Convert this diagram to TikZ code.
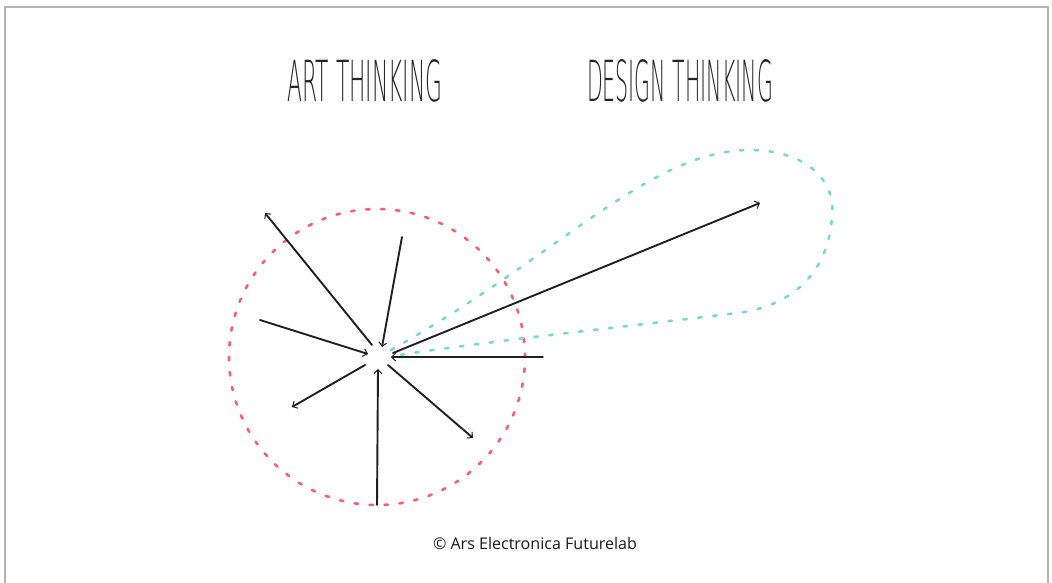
\documentclass[tikz,border=0pt]{standalone}
\usepackage{fontspec}
\setmainfont{Open Sans}
\newfontfamily\thintitle{DejaVu Sans ExtraLight}
\usetikzlibrary{arrows.meta}
\definecolor{artred}{HTML}{FF5C70}
\definecolor{designteal}{HTML}{78DACA}
\definecolor{framegray}{HTML}{B4B4B4}
\definecolor{ink}{HTML}{202020}
\tikzset{
  titletext/.style={inner sep=0pt, font=\thintitle, text=black!85},
  foottext/.style={inner sep=0pt, text=black!90},
  sketcharrow/.style={draw=ink, line width=1.9pt, line cap=round,
     -{Straight Barb[length=4pt,width=8pt,line width=1pt]}},
  artloop/.style={draw=artred, line width=2.6pt, line cap=round, dash pattern=on 3.5pt off 11.5pt},
  designloop/.style={draw=designteal, line width=2.6pt, line cap=round, dash pattern=on 3.5pt off 11.5pt},
  framestyle/.style={draw=framegray, line width=1.5pt}
}
\begin{document}
\begin{tikzpicture}[x=1pt,y=-1pt]
\useasboundingbox (0,0) rectangle (1052,582);
% frame
\draw[framestyle] (5,585) -- (5,7) -- (1048,7) -- (1048,585);
% titles
\node[titletext] (art) at (365,81) {\resizebox{155pt}{42pt}{ART THINKING}};
\node[titletext] (design) at (680,81) {\resizebox{186pt}{42pt}{DESIGN THINKING}};
% footer
\node[foottext] (foot) at (535,543) {\resizebox{204pt}{!}{© Ars Electronica Futurelab}};
% loops
\coordinate (circc) at (377,357);
\draw[artloop] (circc) circle[radius=148pt];
\coordinate (t0) at (391,350);
\coordinate (t1) at (750,150);
\coordinate (t2) at (832,215);
\coordinate (t3) at (745,312);
\coordinate (t4) at (393,356);
\draw[designloop] (t0) .. controls (560,255) and (650,150) .. (t1)
   .. controls (805,150) and (836,180) .. (t2)
   .. controls (830,265) and (800,302) .. (t3)
   .. controls (640,325) and (480,342) .. (t4);
% arrow end points
\coordinate (ulS) at (372,345);  \coordinate (ulE) at (265,213);
\coordinate (tS) at (402,237);   \coordinate (tE) at (382,347);
\coordinate (lS) at (260,320);   \coordinate (lE) at (368,354);
\coordinate (llS) at (365,365);  \coordinate (llE) at (292,407);
\coordinate (bS) at (377,505);   \coordinate (bE) at (378,369);
\coordinate (lrS) at (388,365);  \coordinate (lrE) at (473,438);
\coordinate (rS) at (543,357);   \coordinate (rE) at (391,357);
\coordinate (dS) at (393,353);   \coordinate (dE) at (760,203);
\draw[sketcharrow] (ulS) -- (ulE);
\draw[sketcharrow] (tS) -- (tE);
\draw[sketcharrow] (lS) -- (lE);
\draw[sketcharrow] (llS) -- (llE);
\draw[sketcharrow] (bS) -- (bE);
\draw[sketcharrow] (lrS) -- (lrE);
\draw[sketcharrow] (rS) -- (rE);
\draw[sketcharrow] (dS) -- (dE);
\end{tikzpicture}
\end{document}
